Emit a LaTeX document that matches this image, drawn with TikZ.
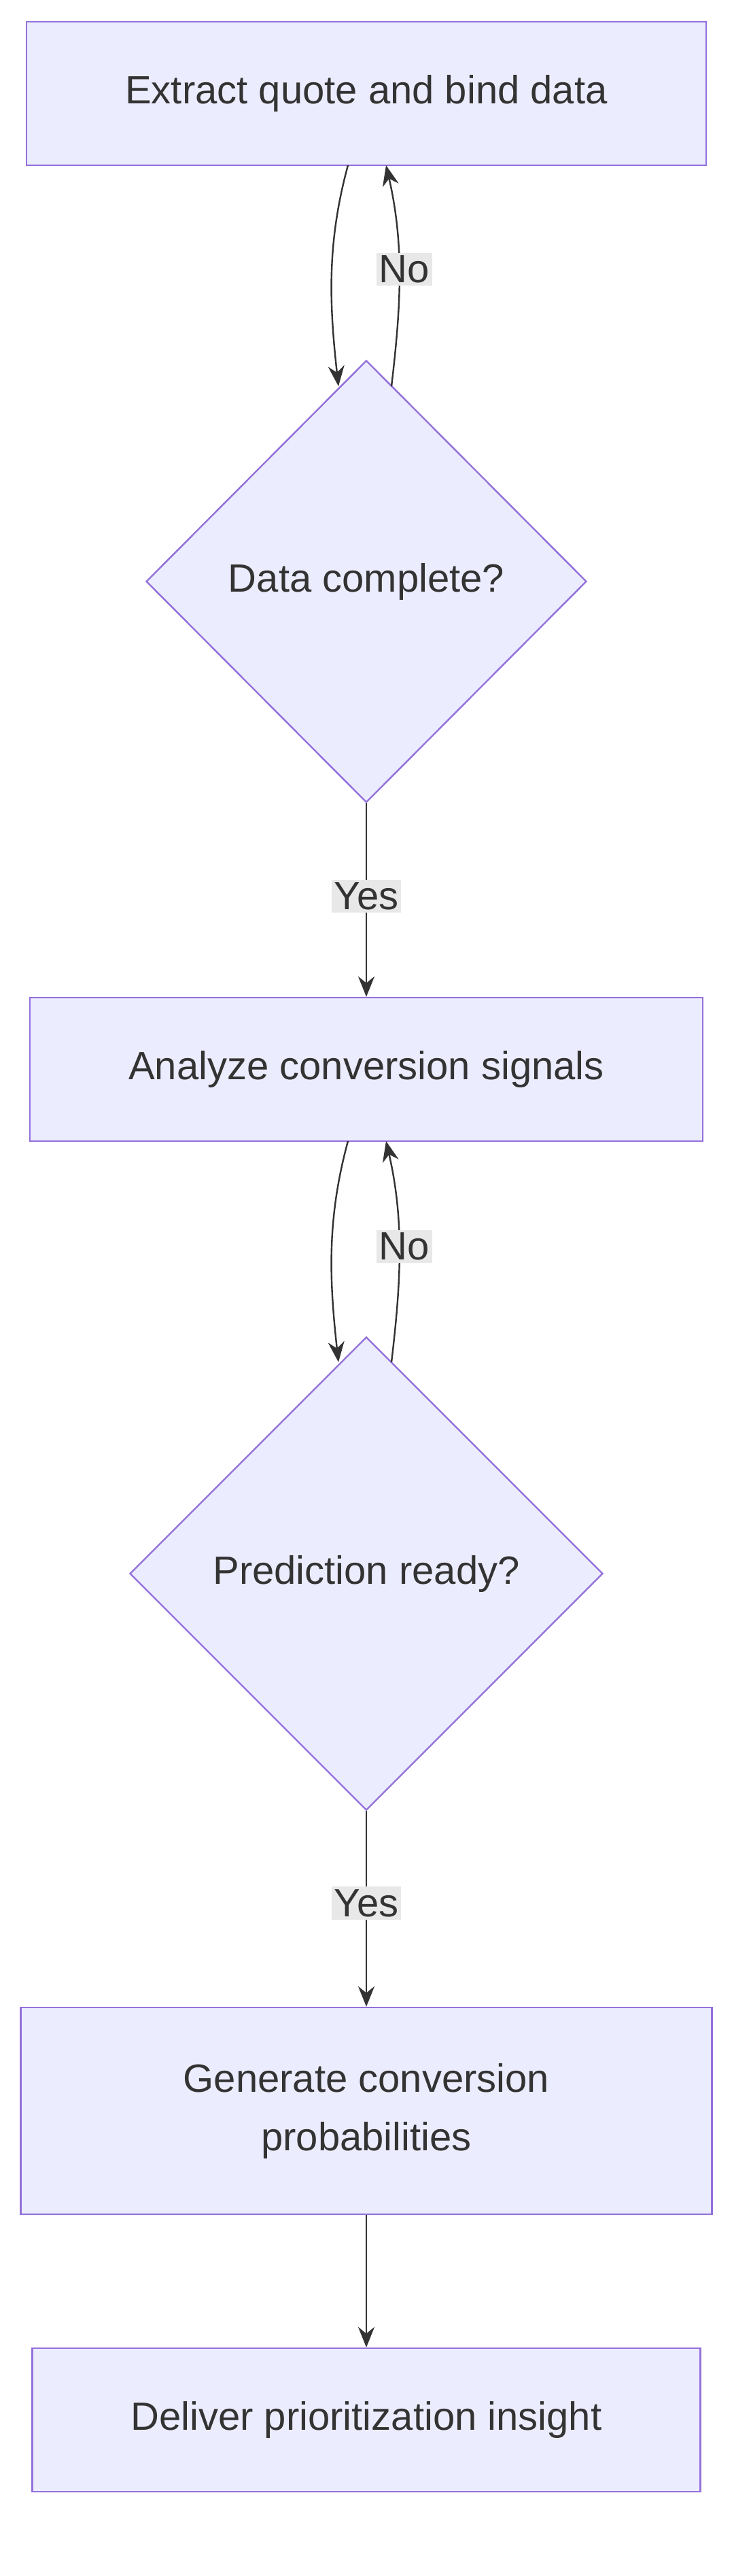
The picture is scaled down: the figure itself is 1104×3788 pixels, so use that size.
\documentclass[tikz,border=0pt]{standalone}
\usepackage{fontspec}
\setmainfont{Liberation Sans}
\usetikzlibrary{shapes.geometric,arrows.meta}
\definecolor{nfill}{HTML}{ECECFF}
\definecolor{nstroke}{HTML}{9370DB}
\definecolor{edge}{HTML}{333333}
\definecolor{lbl}{HTML}{E8E8E8}
\begin{document}
\begin{tikzpicture}[x=1pt,y=-1pt,
  txt/.style={font=\fontsize{58}{86}\selectfont,text=edge},
  boxn/.style={txt,draw=nstroke,fill=nfill,line width=2.4pt,align=center,inner sep=0pt},
  dia/.style={txt,draw=nstroke,fill=nfill,line width=2.4pt,diamond,inner sep=0pt},
  conn/.style={draw=edge,line width=2.4pt,-{Stealth[length=30pt,width=24pt]}},
  lab/.style={txt,fill=lbl,inner sep=4pt}]
\useasboundingbox (0,0) rectangle (1104,3788);
\node[boxn,minimum width=1000pt,minimum height=211pt] (b1) at (539,137.5) {Extract quote and bind data};
\node[dia,minimum width=648pt,minimum height=650pt] (d1) at (539,855) {Data complete?};
\node[boxn,minimum width=990pt,minimum height=211pt] (b2) at (539,1572.5) {Analyze conversion signals};
\node[dia,minimum width=696pt,minimum height=696pt] (d2) at (539,2314) {Prediction ready?};
\node[boxn,minimum width=1017pt,minimum height=304pt] (b3) at (539,3104) {Generate conversion\\probabilities};
\node[boxn,minimum width=983pt,minimum height=211pt] (b4) at (539,3558.5) {Deliver prioritization insight};
\coordinate (a1) at (512,243); \coordinate (a2) at (498,568);
\coordinate (c1) at (576,568); \coordinate (c2) at (568,243);
\draw[conn] (a1) .. controls (480,360) and (485,450) .. (a2);
\draw[conn] (c1) .. controls (590,450) and (595,360) .. (c2);
\node[lab] (n1) at (595,396) {No};
\draw[conn] (d1.south) -- (b2.north) node[lab,pos=0.48] (y1) {Yes};
\coordinate (a3) at (512,1678); \coordinate (a4) at (498,2003);
\coordinate (c3) at (576,2003); \coordinate (c4) at (568,1678);
\draw[conn] (a3) .. controls (480,1795) and (485,1885) .. (a4);
\draw[conn] (c3) .. controls (590,1885) and (595,1795) .. (c4);
\node[lab] (n2) at (595,1833) {No};
\draw[conn] (d2.south) -- (b3.north) node[lab,pos=0.47] (y2) {Yes};
\draw[conn] (b3.south) -- (b4.north);
\end{tikzpicture}
\end{document}
